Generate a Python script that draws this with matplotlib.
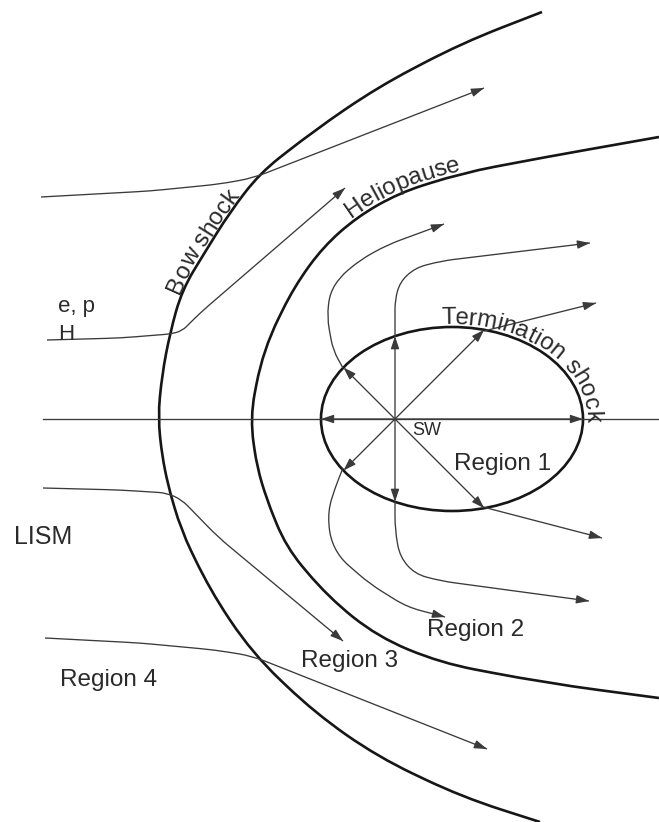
import numpy as np
import matplotlib
matplotlib.use('Agg')
import matplotlib.pyplot as plt
from matplotlib.path import Path
from matplotlib.patches import PathPatch, Ellipse
from matplotlib.font_manager import FontProperties

plt.rcParams['font.family'] = ['Liberation Sans', 'DejaVu Sans']

# all positions are in picture pixels, y grows downwards
bow_shock = [(542, 12), (462, 43), (378, 87), (315, 130), (260, 173), (230, 212),
             (205, 252), (182, 290), (170, 333), (162, 375), (158, 417), (162, 455),
             (168, 485), (181, 530), (210, 590), (252, 653), (315, 713), (378, 757),
             (462, 797), (540, 822)]
heliopause = [(659, 137), (546, 157), (462, 173), (399, 193), (357, 217), (323, 247),
              (294, 287), (263, 350), (250, 418), (257, 467), (267, 500), (286, 547),
              (328, 597), (378, 637), (441, 663), (546, 683), (659, 698)]
ts_center = (452, 419)
ts_radii = (131, 92)
sw_origin = (395, 419)
sw_angles = [0, 45, 90, 135, 180, 225, 270, 315]
axis_x = [43, 659]

# interstellar flow lines (outside the heliopause)
lism_flows = [
    [(41, 197), (150, 191), (220, 184), (253, 178), (484, 88)],
    [(47, 340), (120, 338), (170, 334), (182, 331), (200, 313), (345, 188)],
    [(43, 488), (120, 490), (167, 493), (182, 500), (218, 537), (343, 641)],
    [(45, 638), (140, 643), (215, 650), (252, 656), (487, 749)],
]
# solar wind flow lines beyond the termination shock
sheath_flows = [
    [(343, 368), (333, 350), (327, 317), (330, 293), (340, 277), (360, 260), (387, 245), (444, 224)],
    [(395, 337), (395, 300), (400, 282), (415, 268), (441, 261), (590, 243)],
    [(484, 331), (596, 303)],
    [(483, 507), (602, 538)],
    [(395, 501), (395, 530), (400, 557), (415, 574), (441, 581), (589, 601)],
    [(343, 468), (335, 488), (328, 511), (330, 538), (340, 558), (370, 584), (407, 607), (445, 617)],
]

labels = [
    ('LISM', 43, 537, 18),
    ('Region 4', 109, 680, 17.5),
    ('Region 3', 350, 661, 17.5),
    ('Region 2', 476, 630, 17.5),
    ('Region 1', 503, 464, 17.5),
]

THICK = '#161616'
THIN = '#3a3a3a'
TXT = '#2a2a2a'


def rounded_path(pts, r=np.inf):
    pts = np.asarray(pts, float)
    verts = [pts[0]]
    codes = [Path.MOVETO]
    for i in range(1, len(pts) - 1):
        a, b, c = pts[i - 1], pts[i], pts[i + 1]
        d1 = np.hypot(*(b - a))
        d2 = np.hypot(*(c - b))
        k = min(r, d1 / 2, d2 / 2)
        verts += [b + (a - b) / d1 * k, b, b + (c - b) / d2 * k]
        codes += [Path.LINETO, Path.CURVE3, Path.CURVE3]
    verts.append(pts[-1])
    codes.append(Path.LINETO)
    return Path(verts, codes)


def arrow(ax, tail, tip, color=THIN, lw=1.0):
    ax.annotate('', xy=tip, xytext=tail,
                arrowprops=dict(arrowstyle='-|>,head_length=0.75,head_width=0.25',
                                mutation_scale=10, color=color, lw=lw,
                                shrinkA=0, shrinkB=0))


def flow(ax, pts):
    ax.add_patch(PathPatch(rounded_path(pts, r=14), fill=False, edgecolor=THIN, lw=0.95))
    p = np.asarray(pts, float)
    d = p[-1] - p[-2]
    tail = p[-1] - d / np.hypot(*d) * 10
    arrow(ax, tail, p[-1], lw=0.95)


def upper_baseline(path, offset):
    """Upper branch of a boundary, running up and right, shifted outwards."""
    poly = path.to_polygons(closed_only=False)[0]
    keep = np.concatenate([[True], np.hypot(*np.diff(poly, axis=0).T) > 1e-6])
    poly = poly[keep]
    poly = poly[poly[:, 1] < 417][::-1]
    d = np.gradient(poly, axis=0)
    n = np.stack([d[:, 1], -d[:, 0]], axis=1)
    n /= np.hypot(n[:, 0], n[:, 1])[:, None]
    base = poly + n * offset
    return base[:, 0], base[:, 1]


def text_along(ax, renderer, prop, label, bx, by, start):
    """Write label letter by letter along the baseline polyline (bx, by)."""
    seg = np.hypot(np.diff(bx), np.diff(by))
    arc = np.concatenate([[0], np.cumsum(seg)])
    idx = np.arange(len(bx))
    s0 = arc[np.argmin(np.hypot(bx - start[0], by - start[1]))]

    def width(s):
        if not s:
            return 0.0
        return renderer.get_text_width_height_descent(s, prop, ismath=False)[0]

    for i, ch in enumerate(label):
        if ch == ' ':
            continue
        sc = s0 + (width(label[:i]) + width(label[:i + 1])) / 2
        px = np.interp(sc, arc, bx)
        py = np.interp(sc, arc, by)
        lo = np.interp(sc - 6, arc, idx)
        hi = np.interp(sc + 6, arc, idx)
        x0, y0 = np.interp(lo, idx, bx), np.interp(lo, idx, by)
        x1, y1 = np.interp(hi, idx, bx), np.interp(hi, idx, by)
        rot = np.degrees(np.arctan2(-(y1 - y0), x1 - x0))
        ax.text(px, py, ch, fontproperties=prop, color=TXT, ha='center', va='baseline',
                rotation=rot, rotation_mode='anchor')


fig = plt.figure(figsize=(6.59, 8.22), dpi=100)
ax = fig.add_axes([0, 0, 1, 1])
ax.set_xlim(0, 659)
ax.set_ylim(822, 0)
ax.axis('off')

# boundaries
bow_path = rounded_path(bow_shock)
helio_path = rounded_path(heliopause)
ax.add_patch(PathPatch(bow_path, fill=False, edgecolor=THICK, lw=1.9))
ax.add_patch(PathPatch(helio_path, fill=False, edgecolor=THICK, lw=1.9))
ax.add_patch(Ellipse(ts_center, 2 * ts_radii[0], 2 * ts_radii[1], fill=False,
                     edgecolor=THICK, lw=1.9))

# symmetry axis
ax.plot(axis_x, [sw_origin[1]] * 2, color=THIN, lw=0.95)

# radial solar wind arrows ending on the termination shock
cx, cy = ts_center
a, b = ts_radii
ox, oy = sw_origin
for ang in sw_angles:
    c, s = np.cos(np.radians(ang)), -np.sin(np.radians(ang))
    A = (c / a) ** 2 + (s / b) ** 2
    B = 2 * ((ox - cx) * c / a ** 2 + (oy - cy) * s / b ** 2)
    C = ((ox - cx) / a) ** 2 + ((oy - cy) / b) ** 2 - 1
    t = (-B + np.sqrt(B * B - 4 * A * C)) / (2 * A)
    arrow(ax, (ox, oy), (ox + t * c, oy + t * s), lw=0.95)

for pts in lism_flows + sheath_flows:
    flow(ax, pts)

# labels
for txt, x, y, fs in labels:
    ax.text(x, y, txt, fontsize=fs, color=TXT, ha='center', va='center')
ax.text(427, 430, 'SW', fontsize=13, color=TXT, ha='center', va='center')
ax.text(58, 312, 'e, p', fontsize=16, color=TXT, ha='left', va='baseline')
ax.text(58, 340, 'H', fontsize=16, color=TXT, ha='left', va='baseline')

renderer = fig.canvas.get_renderer()
prop = FontProperties(family=['Liberation Sans', 'DejaVu Sans'], size=17.5)

# "Termination shock" along the ellipse
off = 3.0
tt = np.radians(np.linspace(100, -40, 2000))
ex = cx + (a + off) * np.cos(tt)
ey = cy - (b + off) * np.sin(tt)
text_along(ax, renderer, prop, 'Termination shock', ex, ey, (442, 326))

# "Heliopause" and "Bow shock" along their curves
hx, hy = upper_baseline(helio_path, 4.0)
text_along(ax, renderer, prop, 'Heliopause', hx, hy, (347, 218))
bx, by = upper_baseline(bow_path, 2.5)
text_along(ax, renderer, prop, 'Bow shock', bx, by, (177, 298))

fig.savefig('out.png', dpi=100, facecolor='white')
plt.close(fig)
